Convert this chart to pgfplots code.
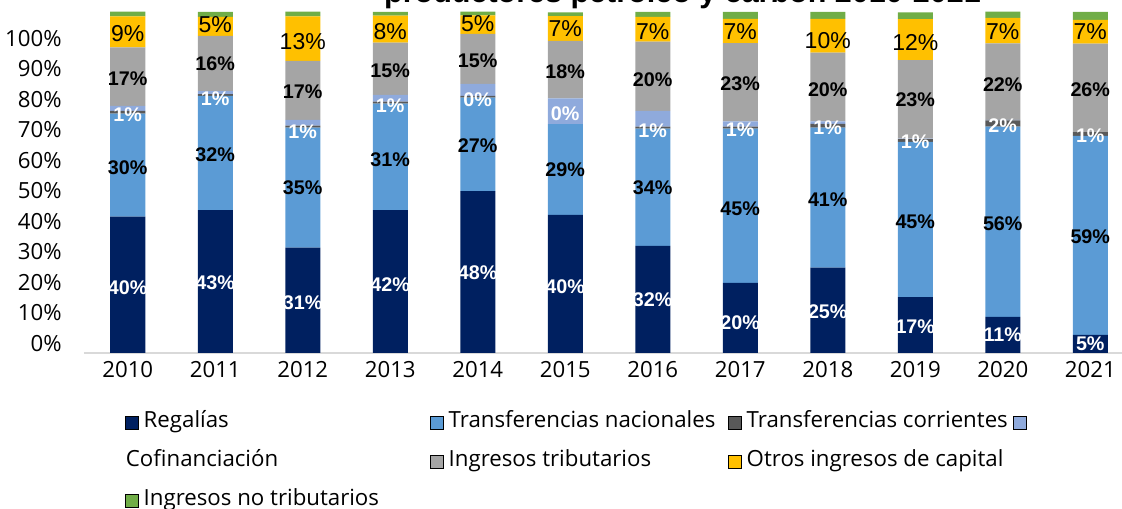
\documentclass[border=0pt]{standalone}
\usepackage{pgfplots}
\pgfplotsset{compat=1.18}
\usepackage{fontspec}
\setmainfont{Open Sans}
\newfontfamily\arialfont{Liberation Sans}

\definecolor{regalias}{HTML}{002060}
\definecolor{tnac}{HTML}{5B9BD5}
\definecolor{tcorr}{HTML}{595959}
\definecolor{cofin}{HTML}{8FAADC}
\definecolor{itrib}{HTML}{A5A5A5}
\definecolor{otros}{HTML}{FFC000}
\definecolor{inotrib}{HTML}{70AD47}
\definecolor{axisgray}{HTML}{D9D9D9}

\newcommand{\lblb}{\arialfont\bfseries\fontsize{7.9}{9}\selectfont}
\newcommand{\lblr}{\arialfont\fontsize{9.2}{11}\selectfont}
\newcommand{\txt}{\fontsize{8.9}{10.7}\selectfont}

\pgfplotsset{
  common/.style={
    at={(33.6pt,62pt)}, anchor=south west,
    scale only axis, width=420pt, height=136.4pt,
    xmin=-0.5, xmax=11.5, ymin=0, ymax=100,
    enlargelimits=false, clip=false,
  },
  lbl/.style={forget plot, draw=none, mark=none,
    nodes near coords={\pgfplotspointmeta}, point meta=explicit symbolic,
    every node near coord/.append style={anchor=center, inner sep=0pt, #1}},
}

\begin{document}
\begin{tikzpicture}
% stacked bars
\begin{axis}[common,
  ybar stacked, bar width=14pt,
  axis x line*=bottom, axis y line*=left,
  x axis line style={-, draw=axisgray, line width=0.8pt},
  y axis line style={draw=none},
  major tick length=0pt,
  xtick={0,...,11},
  xticklabels={2010,2011,2012,2013,2014,2015,2016,2017,2018,2019,2020,2021},
  ytick={2.84,11.79,20.73,29.67,38.62,47.56,56.50,65.45,74.39,83.34,92.28},
  yticklabels={0\%,10\%,20\%,30\%,40\%,50\%,60\%,70\%,80\%,90\%,100\%},
  ticklabel style={font=\txt},
  yticklabel style={xshift=-5.4pt},
]
\addplot[fill=regalias, draw=none] coordinates {(0,40.0) (1,41.9) (2,30.9) (3,41.9) (4,47.5) (5,40.5) (6,31.4) (7,20.6) (8,25.0) (9,16.4) (10,10.6) (11,5.3)};
\addplot[fill=tnac, draw=none] coordinates {(0,30.2) (1,33.5) (2,35.2) (3,31.2) (4,27.4) (5,26.6) (6,34.4) (7,45.2) (8,41.1) (9,45.5) (10,55.8) (11,58.4)};
\addplot[fill=tcorr, draw=none] coordinates {(0,0.8) (1,0.5) (2,0.6) (3,0.6) (4,0.5) (5,0.0) (6,0.6) (7,0.6) (8,1.1) (9,0.8) (10,1.8) (11,1.1)};
\addplot[fill=cofin, draw=none] coordinates {(0,1.5) (1,0.9) (2,1.7) (3,2.0) (4,3.5) (5,7.6) (6,4.6) (7,1.5) (8,0.7) (9,0.2) (10,0.2) (11,0.0)};
\addplot[fill=itrib, draw=none] coordinates {(0,17.1) (1,16.2) (2,17.3) (3,15.3) (4,14.7) (5,16.8) (6,20.3) (7,23.0) (8,20.2) (9,23.0) (10,22.4) (11,25.9)};
\addplot[fill=otros, draw=none] coordinates {(0,9.1) (1,5.6) (2,13.0) (3,7.9) (4,5.4) (5,7.3) (6,7.3) (7,7.1) (8,9.9) (9,12.0) (10,7.5) (11,7.0)};
\addplot[fill=inotrib, draw=none] coordinates {(0,1.4) (1,1.4) (2,1.4) (3,1.1) (4,1.1) (5,1.1) (6,1.4) (7,2.0) (8,2.0) (9,2.0) (10,1.8) (11,2.3)};
\end{axis}

% data labels and legend
\begin{axis}[common, hide axis,
  legend columns=4, legend cell align=left,
  legend image code/.code={\fill[#1] (0pt,-2.9pt) rectangle (5.1pt,2.2pt);},
  legend style={at={(axis description cs:0.039,-0.1686)}, anchor=north west,
    draw=none, fill=none, inner sep=0pt, outer sep=0pt,
    row sep=6.4pt, column sep=0pt,
    nodes={inner sep=0pt, text height=7pt, text depth=2.2pt, font=\txt}},
]
\addplot[lbl={font=\lblb, text=white}] coordinates {(0,19.1) [40\%] (1,20.5) [43\%] (2,14.75) [31\%] (3,19.9) [42\%] (4,23.5) [48\%] (5,19.4) [40\%] (6,15.5) [32\%] (7,9.0) [20\%] (8,12.1) [25\%] (9,7.7) [17\%] (10,5.3) [11\%] (11,2.8) [5\%]};
\addplot[lbl={font=\lblb, text=black}] coordinates {(0,54.2) [30\%] (1,58.1) [32\%] (2,48.4) [35\%] (3,56.6) [31\%] (4,60.7) [27\%] (5,53.7) [29\%] (6,48.4) [34\%] (7,42.4) [45\%] (8,44.9) [41\%] (9,38.5) [45\%] (10,38.0) [56\%] (11,34.1) [59\%]};
\addplot[lbl={font=\lblb, text=white}] coordinates {(0,69.8) [1\%] (1,74.5) [1\%] (2,64.9) [1\%] (3,72.4) [1\%] (4,74.2) [0\%] (5,70.1) [0\%] (6,65.2) [1\%] (7,65.4) [1\%] (8,66.2) [1\%] (9,62.0) [1\%] (10,66.6) [2\%] (11,63.7) [1\%]};
\addplot[lbl={font=\lblb, text=black}] coordinates {(0,80.4) [17\%] (1,84.7) [16\%] (2,76.6) [17\%] (3,82.7) [15\%] (4,85.6) [15\%] (5,82.5) [18\%] (6,80.1) [20\%] (7,79.1) [23\%] (8,77.3) [20\%] (9,74.2) [23\%] (10,78.8) [22\%] (11,77.3) [26\%]};
\addplot[lbl={font=\lblr, text=black}] coordinates {(0,93.7) [9\%] (1,96.2) [5\%] (2,91.3) [13\%] (3,94.4) [8\%] (4,96.7) [5\%] (5,95.2) [7\%] (6,94.4) [7\%] (7,94.2) [7\%] (8,91.5) [10\%] (9,91.0) [12\%] (10,94.4) [7\%] (11,94.4) [7\%]};

\addlegendimage{fill=regalias}
\addlegendentry{\makebox[116.5pt][l]{\hspace*{2pt}Regalías}}
\addlegendimage{fill=tnac}
\addlegendentry{\makebox[113.7pt][l]{\hspace*{2pt}Transferencias nacionales}}
\addlegendimage{fill=tcorr}
\addlegendentry{\makebox[108.5pt][l]{\hspace*{2pt}Transferencias corrientes}}
\addlegendimage{fill=cofin}
\addlegendentry{}
\addlegendimage{empty legend}
\addlegendentry{\makebox[116.5pt][l]{\hspace*{-5.1pt}Cofinanciación}}
\addlegendimage{fill=itrib}
\addlegendentry{\makebox[113.7pt][l]{\hspace*{2pt}Ingresos tributarios}}
\addlegendimage{fill=otros}
\addlegendentry{\makebox[108.5pt][l]{\hspace*{2pt}Otros ingresos de capital}}
\addlegendimage{empty legend}
\addlegendentry{}
\addlegendimage{fill=inotrib}
\addlegendentry{\makebox[116.5pt][l]{\hspace*{2pt}Ingresos no tributarios}}
\end{axis}

\node[anchor=base, font=\arialfont\bfseries\fontsize{12.2}{14}\selectfont] at (273pt,202pt) {productores petróleo y carbón 2010-2021};

\pgfresetboundingbox
\path[use as bounding box] (0,0) rectangle (448.8pt,203.2pt);
\end{tikzpicture}
\end{document}
